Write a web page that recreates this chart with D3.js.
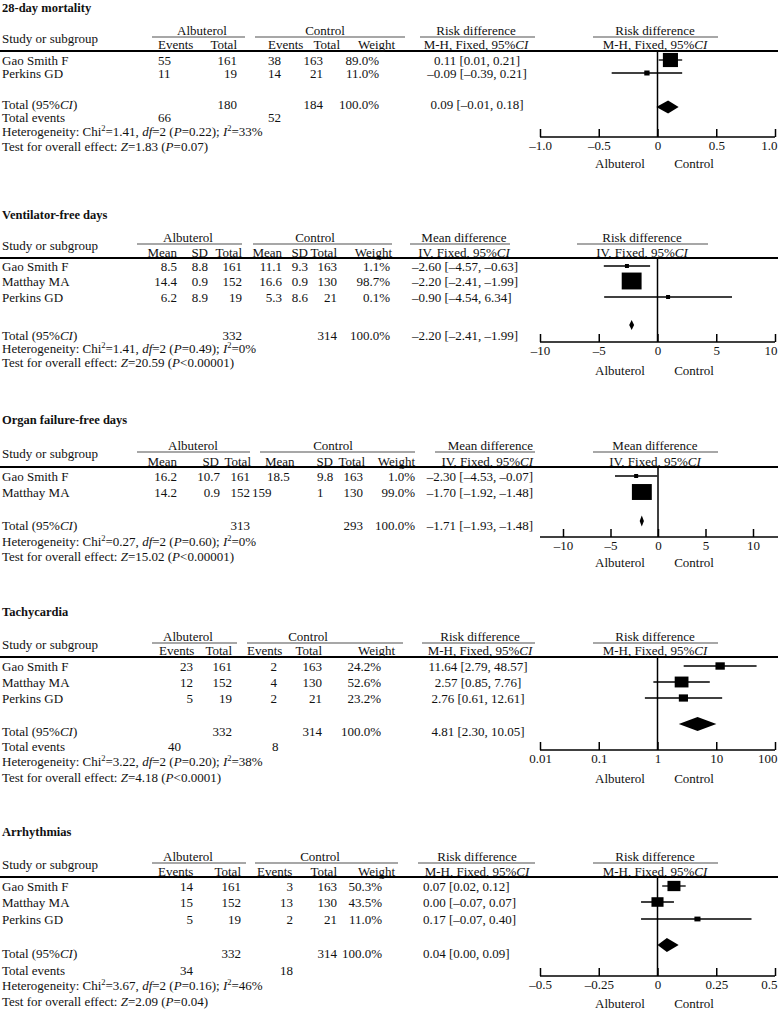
<!DOCTYPE html>
<html>
<head>
<meta charset="utf-8">
<title>Albuterol forest plots</title>
<script src="https://cdn.jsdelivr.net/npm/d3@7"></script>
<style>
  body { margin: 0; background: #fff; }
  svg text { font-family: "Liberation Serif", "Times New Roman", serif; font-size: 13px; fill: #111; }
  svg text.title { font-weight: bold; font-size: 12.5px; }
</style>
</head>
<body>
<script>
// ---- 28-day mortality
var mortStudies = ['Gao Smith F', 'Perkins GD'];
var mortAlbEvents = [55, 11], mortAlbTotal = [161, 19];
var mortCtlEvents = [38, 14], mortCtlTotal = [163, 21];
var mortWeight = [89.0, 11.0];
var mortEst = [0.11, -0.09], mortLo = [0.01, -0.39], mortHi = [0.21, 0.21];
var mortPooled = [0.09, -0.01, 0.18];
var mortTotals = [180, 184], mortTotalEvents = [66, 52];
var mortHet = ['1.41', '2', '=0.22', '33'], mortTest = ['1.83', '=0.07'];
var mortTicks = [-1, -0.5, 0, 0.5, 1], mortTickLabels = ['–1.0', '–0.5', '0', '0.5', '1.0'];

// ---- Ventilator-free days
var ventStudies = ['Gao Smith F', 'Matthay MA', 'Perkins GD'];
var ventAlbMean = [8.5, 14.4, 6.2], ventAlbSD = [8.8, 0.9, 8.9], ventAlbN = [161, 152, 19];
var ventCtlMean = [11.1, 16.6, 5.3], ventCtlSD = [9.3, 0.9, 8.6], ventCtlN = [163, 130, 21];
var ventWeight = [1.1, 98.7, 0.1];
var ventEst = [-2.60, -2.20, 0.90], ventLo = [-4.57, -2.41, -4.54], ventHi = [-0.63, -1.99, 6.34];
var ventEstText = ['–2.60 [–4.57, –0.63]', '–2.20 [–2.41, –1.99]', '–0.90 [–4.54, 6.34]'];
var ventPooled = [-2.20, -2.41, -1.99];
var ventTotals = [332, 314];
var ventHet = ['1.41', '2', '=0.49', '0'], ventTest = ['20.59', '<0.00001'];
var ventTicks = [-10, -5, 0, 5, 10], ventTickLabels = ['–10', '–5', '0', '5', '10'];

// ---- Organ failure-free days
var organStudies = ['Gao Smith F', 'Matthay MA'];
var organAlbMean = [16.2, 14.2], organAlbSD = [10.7, 0.9], organAlbN = [161, 152];
var organCtlMean = [18.5, 159], organCtlSD = [9.8, 1], organCtlN = [163, 130];
var organWeight = [1.0, 99.0];
var organEst = [-2.30, -1.70], organLo = [-4.53, -1.92], organHi = [-0.07, -1.48];
var organPooled = [-1.71, -1.93, -1.48];
var organTotals = [313, 293];
var organHet = ['0.27', '2', '=0.60', '0'], organTest = ['15.02', '<0.00001'];
var organTicks = [-10, -5, 0, 5, 10], organTickLabels = ['–10', '–5', '0', '5', '10'];

// ---- Tachycardia
var tachyStudies = ['Gao Smith F', 'Matthay MA', 'Perkins GD'];
var tachyAlbEvents = [23, 12, 5], tachyAlbTotal = [161, 152, 19];
var tachyCtlEvents = [2, 4, 2], tachyCtlTotal = [163, 130, 21];
var tachyWeight = [24.2, 52.6, 23.2];
var tachyEst = [11.64, 2.57, 2.76], tachyLo = [2.79, 0.85, 0.61], tachyHi = [48.57, 7.76, 12.61];
var tachyPooled = [4.81, 2.30, 10.05];
var tachyTotals = [332, 314], tachyTotalEvents = [40, 8];
var tachyHet = ['3.22', '2', '=0.20', '38'], tachyTest = ['4.18', '<0.0001'];
var tachyTicks = [0.01, 0.1, 1, 10, 100], tachyTickLabels = ['0.01', '0.1', '1', '10', '100'];

// ---- Arrhythmias
var arrStudies = ['Gao Smith F', 'Matthay MA', 'Perkins GD'];
var arrAlbEvents = [14, 15, 5], arrAlbTotal = [161, 152, 19];
var arrCtlEvents = [3, 13, 2], arrCtlTotal = [163, 130, 21];
var arrWeight = [50.3, 43.5, 11.0];
var arrEst = [0.07, 0.00, 0.17], arrLo = [0.02, -0.07, -0.07], arrHi = [0.12, 0.07, 0.40];
var arrPooled = [0.04, 0.00, 0.09];
var arrTotals = [332, 314], arrTotalEvents = [34, 18];
var arrHet = ['3.67', '2', '=0.16', '46'], arrTest = ['2.09', '=0.04'];
var arrTicks = [-0.5, -0.25, 0, 0.25, 0.5], arrTickLabels = ['–0.5', '–0.25', '0', '0.25', '0.5'];

function fmt(v) { return (v < 0 ? '–' : '') + Math.abs(v).toFixed(2); }
function ciText(e, l, h) { return fmt(e) + ' [' + fmt(l) + ', ' + fmt(h) + ']'; }
function pct(w) { return w.toFixed(1) + '%'; }
function hetParts(h) {
  return ['Heterogeneity: Chi', {sup: '2'}, '=' + h[0] + ', ', {i: 'df'}, '=' + h[1] + ' (', {i: 'P'},
          h[2] + '); ', {i: 'I'}, {sup: '2'}, '=' + h[3] + '%'];
}
function testParts(t) {
  return ['Test for overall effect: ', {i: 'Z'}, '=' + t[0] + ' (', {i: 'P'}, t[1] + ')'];
}
var MH = ['M-H, Fixed, 95%', {i: 'CI'}], IV = ['IV, Fixed, 95%', {i: 'CI'}];

var svg = d3.select('body').append('svg').attr('width', 778).attr('height', 1010);

function addText(g, x, y, parts, anchor, cls) {
  var t = g.append('text').attr('x', x).attr('y', y).attr('dy', '0.35em')
    .attr('text-anchor', anchor || 'start');
  if (cls) t.attr('class', cls);
  if (!Array.isArray(parts)) parts = [String(parts)];
  var lift = 0;
  parts.forEach(function(p) {
    var s = t.append('tspan');
    if (typeof p === 'string') s.text(p);
    else if (p.i) s.style('font-style', 'italic').text(p.i);
    else if (p.sup) { s.attr('dy', -5).style('font-size', '8.5px').text(p.sup); lift = 5; return; }
    if (lift) { s.attr('dy', lift); lift = 0; }
  });
  return t;
}

function hline(g, x1, x2, y, color, w) {
  g.append('line').attr('x1', x1).attr('x2', x2).attr('y1', y).attr('y2', y)
    .attr('stroke', color).attr('stroke-width', w);
}

var panels = [
  {
    title: '28-day mortality', studies: mortStudies,
    y: {title: 8, gline: 37, study: 38, sub: 44, thick: 51, rows: [60, 73], total: 104,
        events: 117, het: 131, test: 146, axis: 137, side: 163, diamond: 107},
    lines: [[152, 245], [255, 405], [420, 535], [593, 718]],
    groups: [[202, 'Albuterol'], [325, 'Control']],
    cols: [
      {head: 'Events', hx: 158, ha: 'start', vals: mortAlbEvents, vx: 158, va: 'start'},
      {head: 'Total', hx: 237, ha: 'end', vals: mortAlbTotal, vx: 237, va: 'end'},
      {head: 'Events', hx: 268, ha: 'start', vals: mortCtlEvents, vx: 268, va: 'start'},
      {head: 'Total', hx: 340, ha: 'end', vals: mortCtlTotal, vx: 323, va: 'end'},
      {head: 'Weight', hx: 358, ha: 'start', vals: mortWeight.map(pct), vx: 379, va: 'end'}
    ],
    totalRow: [[237, 'end', mortTotals[0]], [323, 'end', mortTotals[1]], [379, 'end', '100.0%']],
    eventsRow: [[158, 'start', mortTotalEvents[0]], [268, 'start', mortTotalEvents[1]]],
    estHead: [476, 'middle', 'Risk difference', MH], estCol: [477, 'middle'],
    plotHead: [655, 'Risk difference', MH],
    est: mortEst, lo: mortLo, hi: mortHi, pooled: mortPooled, weight: mortWeight,
    het: mortHet, test: mortTest,
    log: false, domain: [-1, 1], range: [540, 775], axisLine: [540, 775], nullValue: 0,
    ticks: mortTicks, tickLabels: mortTickLabels,
    kx: 1.6, ky: 1.5, dh: 13
  },
  {
    title: 'Ventilator-free days', studies: ventStudies,
    y: {title: 215, gline: 244, study: 245, sub: 252, thick: 258, rows: [266, 281, 297], total: 335,
        het: 348, test: 362, axis: 342, side: 370, diamond: 325},
    lines: [[137, 242], [253, 392], [410, 510], [577, 708]],
    groups: [[188, 'Albuterol'], [315, 'Control']],
    cols: [
      {head: 'Mean', hx: 177, ha: 'end', vals: ventAlbMean, vx: 177, va: 'end'},
      {head: 'SD', hx: 208, ha: 'end', vals: ventAlbSD, vx: 208, va: 'end'},
      {head: 'Total', hx: 242, ha: 'end', vals: ventAlbN, vx: 242, va: 'end'},
      {head: 'Mean', hx: 282, ha: 'end', vals: ventCtlMean, vx: 282, va: 'end'},
      {head: 'SD', hx: 308, ha: 'end', vals: ventCtlSD, vx: 308, va: 'end'},
      {head: 'Total', hx: 337, ha: 'end', vals: ventCtlN, vx: 337, va: 'end'},
      {head: 'Weight', hx: 392, ha: 'end', vals: ventWeight.map(pct), vx: 390, va: 'end'}
    ],
    totalRow: [[242, 'end', ventTotals[0]], [337, 'end', ventTotals[1]], [390, 'end', '100.0%']],
    eventsRow: null,
    estHead: [464, 'middle', 'Mean difference', IV], estCol: [412, 'start'], estText: ventEstText,
    plotHead: [642, 'Risk difference', IV],
    est: ventEst, lo: ventLo, hi: ventHi, pooled: ventPooled, weight: ventWeight,
    het: ventHet, test: ventTest,
    log: false, domain: [-10, 10], range: [540, 775], axisLine: [540, 775], nullValue: 0,
    ticks: ventTicks, tickLabels: ventTickLabels,
    kx: 2.0, ky: 1.7, dh: 10
  },
  {
    title: 'Organ failure-free days', studies: organStudies,
    y: {title: 420, gline: 452, study: 453, sub: 461, thick: 467, rows: [476, 492], total: 525,
        het: 541, test: 556, axis: 537, side: 562, diamond: 521},
    lines: [[137, 250], [260, 415], [435, 535], [593, 718]],
    groups: [[193, 'Albuterol'], [333, 'Control']],
    cols: [
      {head: 'Mean', hx: 177, ha: 'end', vals: organAlbMean, vx: 177, va: 'end'},
      {head: 'SD', hx: 219, ha: 'end', vals: organAlbSD, vx: 220, va: 'end'},
      {head: 'Total', hx: 251, ha: 'end', vals: organAlbN, vx: 250, va: 'end'},
      {head: 'Mean', hx: 265, ha: 'start', vals: organCtlMean, vx: 267, va: 'start', dx: [0, -15]},
      {head: 'SD', hx: 333, ha: 'end', vals: organCtlSD, vx: 317, va: 'start'},
      {head: 'Total', hx: 365, ha: 'end', vals: organCtlN, vx: 363, va: 'end'},
      {head: 'Weight', hx: 415, ha: 'end', vals: organWeight.map(pct), vx: 415, va: 'end'}
    ],
    totalRow: [[250, 'end', organTotals[0]], [363, 'end', organTotals[1]], [415, 'end', '100.0%']],
    eventsRow: null,
    estHead: [533, 'end', 'Mean difference', IV], estCol: [533, 'end'],
    plotHead: [655, 'Mean difference', IV],
    est: organEst, lo: organLo, hi: organHi, pooled: organPooled, weight: organWeight,
    het: organHet, test: organTest,
    log: false, domain: [-10, 10], range: [563, 753], axisLine: [540, 778], nullValue: 0,
    ticks: organTicks, tickLabels: organTickLabels,
    kx: 2.0, ky: 1.6, dh: 11
  },
  {
    title: 'Tachycardia', studies: tachyStudies,
    y: {title: 612, gline: 643, study: 644, sub: 650, thick: 657, rows: [666, 682, 698], total: 731,
        events: 746, het: 761, test: 777, axis: 750, side: 778, diamond: 724},
    lines: [[152, 237], [247, 403], [422, 535], [593, 718]],
    groups: [[188, 'Albuterol'], [308, 'Control']],
    cols: [
      {head: 'Events', hx: 159, ha: 'start', vals: tachyAlbEvents, vx: 193, va: 'end'},
      {head: 'Total', hx: 232, ha: 'end', vals: tachyAlbTotal, vx: 232, va: 'end'},
      {head: 'Events', hx: 247, ha: 'start', vals: tachyCtlEvents, vx: 277, va: 'end'},
      {head: 'Total', hx: 322, ha: 'end', vals: tachyCtlTotal, vx: 322, va: 'end'},
      {head: 'Weight', hx: 358, ha: 'start', vals: tachyWeight.map(pct), vx: 381, va: 'end'}
    ],
    totalRow: [[232, 'end', tachyTotals[0]], [322, 'end', tachyTotals[1]], [381, 'end', '100.0%']],
    eventsRow: [[168, 'start', tachyTotalEvents[0]], [272, 'start', tachyTotalEvents[1]]],
    estHead: [480, 'middle', 'Risk difference', MH], estCol: [478, 'middle'],
    plotHead: [655, 'Risk difference', MH],
    est: tachyEst, lo: tachyLo, hi: tachyHi, pooled: tachyPooled, weight: tachyWeight,
    het: tachyHet, test: tachyTest,
    log: true, domain: [0.01, 100], range: [540, 775], axisLine: [540, 775], nullValue: 1,
    ticks: tachyTicks, tickLabels: tachyTickLabels,
    kx: 1.9, ky: 1.5, dh: 14
  },
  {
    title: 'Arrhythmias', studies: arrStudies,
    y: {title: 832, gline: 863, study: 864, sub: 871, thick: 877, rows: [886, 902, 919], total: 953,
        events: 970, het: 985, test: 1001, axis: 976, side: 1003, diamond: 945},
    lines: [[152, 246], [255, 398], [418, 535], [593, 718]],
    groups: [[188, 'Albuterol'], [320, 'Control']],
    cols: [
      {head: 'Events', hx: 158, ha: 'start', vals: arrAlbEvents, vx: 193, va: 'end'},
      {head: 'Total', hx: 241, ha: 'end', vals: arrAlbTotal, vx: 241, va: 'end'},
      {head: 'Events', hx: 257, ha: 'start', vals: arrCtlEvents, vx: 293, va: 'end'},
      {head: 'Total', hx: 337, ha: 'end', vals: arrCtlTotal, vx: 337, va: 'end'},
      {head: 'Weight', hx: 358, ha: 'start', vals: arrWeight.map(pct), vx: 382, va: 'end'}
    ],
    totalRow: [[241, 'end', arrTotals[0]], [337, 'end', arrTotals[1]], [382, 'end', '100.0%']],
    eventsRow: [[193, 'end', arrTotalEvents[0]], [293, 'end', arrTotalEvents[1]]],
    estHead: [477, 'middle', 'Risk difference', MH], estCol: [423, 'start'],
    plotHead: [655, 'Risk difference', MH],
    est: arrEst, lo: arrLo, hi: arrHi, pooled: arrPooled, weight: arrWeight,
    het: arrHet, test: arrTest,
    log: false, domain: [-0.5, 0.5], range: [540, 775], axisLine: [540, 775], nullValue: 0,
    ticks: arrTicks, tickLabels: arrTickLabels,
    kx: 1.83, ky: 1.45, dh: 14
  }
];

function drawPanel(p) {
  var g = svg.append('g');
  var Y = p.y;
  var groupY = Y.gline - 7;

  addText(g, 2, Y.title, p.title, 'start', 'title');
  addText(g, 2, Y.study, 'Study or subgroup');

  // group headers sit just above their grey rules
  p.groups.forEach(function(d) { addText(g, d[0], groupY, d[1], 'middle'); });
  p.lines.forEach(function(d) { hline(g, d[0], d[1], Y.gline, '#8a8a8a', 1.3); });
  addText(g, p.estHead[0], groupY, p.estHead[2], p.estHead[1]);
  addText(g, p.estHead[0], Y.sub, p.estHead[3], p.estHead[1]);
  addText(g, p.plotHead[0], groupY, p.plotHead[1], 'middle');
  addText(g, p.plotHead[0], Y.sub, p.plotHead[2], 'middle');
  hline(g, 0, 778, Y.thick, '#000', 2);

  // table columns
  p.cols.forEach(function(c) {
    addText(g, c.hx, Y.sub, c.head, c.ha);
    c.vals.forEach(function(v, i) {
      addText(g, c.vx + (c.dx ? c.dx[i] : 0), Y.rows[i], String(v), c.va);
    });
  });
  p.studies.forEach(function(s, i) { addText(g, 2, Y.rows[i], s); });

  var estText = p.estText || p.est.map(function(e, i) { return ciText(e, p.lo[i], p.hi[i]); });
  estText.forEach(function(t, i) { addText(g, p.estCol[0], Y.rows[i], t, p.estCol[1]); });

  // totals
  addText(g, 2, Y.total, ['Total (95%', {i: 'CI'}, ')']);
  p.totalRow.forEach(function(d) { addText(g, d[0], Y.total, String(d[2]), d[1]); });
  addText(g, p.estCol[0], Y.total, ciText(p.pooled[0], p.pooled[1], p.pooled[2]), p.estCol[1]);
  if (p.eventsRow) {
    addText(g, 2, Y.events, 'Total events');
    p.eventsRow.forEach(function(d) { addText(g, d[0], Y.events, String(d[2]), d[1]); });
  }
  addText(g, 2, Y.het, hetParts(p.het));
  addText(g, 2, Y.test, testParts(p.test));

  // forest plot
  var x = (p.log ? d3.scaleLog() : d3.scaleLinear()).domain(p.domain).range(p.range);
  var side = d3.scaleSqrt().domain([0, 100]).range([0, 10]);

  g.append('line').attr('x1', x(p.nullValue)).attr('x2', x(p.nullValue))
    .attr('y1', Y.thick).attr('y2', Y.axis).attr('stroke', '#000').attr('stroke-width', 1.5);

  g.selectAll('.ci').data(p.est).enter().append('line')
    .attr('x1', function(d, i) { return x(p.lo[i]); })
    .attr('x2', function(d, i) { return x(p.hi[i]); })
    .attr('y1', function(d, i) { return Y.rows[i]; })
    .attr('y2', function(d, i) { return Y.rows[i]; })
    .attr('stroke', '#000').attr('stroke-width', 1.3);

  var wh = p.weight.map(function(wt) {
    var s = side(wt);
    return [Math.max(4, s * p.kx), Math.max(4, s * p.ky)];
  });
  g.selectAll('.sq').data(p.est).enter().append('rect')
    .attr('x', function(d, i) { return x(d) - wh[i][0] / 2; })
    .attr('y', function(d, i) { return Y.rows[i] - wh[i][1] / 2; })
    .attr('width', function(d, i) { return wh[i][0]; })
    .attr('height', function(d, i) { return wh[i][1]; })
    .attr('fill', '#000');

  var pe = p.pooled, dy = Y.diamond, h = p.dh / 2;
  g.append('path')
    .attr('d', 'M' + x(pe[1]) + ',' + dy + 'L' + x(pe[0]) + ',' + (dy - h) + 'L' + x(pe[2]) + ',' + dy +
               'L' + x(pe[0]) + ',' + (dy + h) + 'Z')
    .attr('fill', '#000');

  var axis = d3.axisBottom(x).tickValues(p.ticks)
    .tickFormat(function(d) { return p.tickLabels[p.ticks.indexOf(d)]; })
    .tickSizeInner(-8).tickSizeOuter(0).tickPadding(4);
  var ag = g.append('g').attr('transform', 'translate(0,' + Y.axis + ')').call(axis);
  ag.select('.domain').remove();
  ag.selectAll('line').attr('stroke', '#000').attr('stroke-width', 1.5);
  // the last label is pulled inside the right edge
  ag.selectAll('.tick text').filter(function(d, i, n) { return i === n.length - 1 && p.range[1] > 770; })
    .attr('text-anchor', 'end').attr('x', 2);
  hline(g, p.axisLine[0], p.axisLine[1], Y.axis, '#000', 1.5);

  addText(g, 620, Y.side, 'Albuterol', 'middle');
  addText(g, 694, Y.side, 'Control', 'middle');
}

panels.forEach(drawPanel);
</script>
</body>
</html>
